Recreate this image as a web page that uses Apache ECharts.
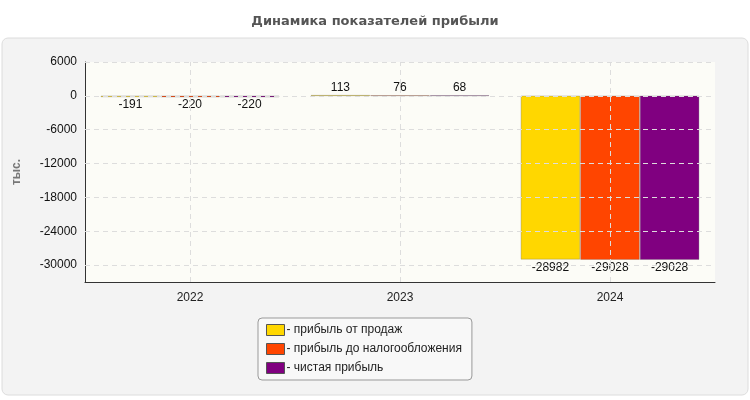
<!DOCTYPE html>
<html>
<head>
<meta charset="utf-8">
<script src="https://cdn.jsdelivr.net/npm/echarts@6/dist/echarts.min.js"></script>
<style>
  html, body { margin: 0; padding: 0; background: #fff; }
  #chart { width: 750px; height: 400px; }
</style>
</head>
<body>
<div id="chart"></div>
<script>
const years = ['2022', '2023', '2024']
const salesProfit = [-191, 113, -28982]
const pretaxProfit = [-220, 76, -29028]
const netProfit = [-220, 68, -29028]
const gridTicks = [6000, 0, -6000, -12000, -18000, -24000, -30000]

const names = ['- прибыль от продаж', '- прибыль до налогообложения', '- чистая прибыль']
const colors = ['#FFD700', '#FF4500', '#800080']

function makeSeries(name, data, color) {
  return {
    name: name,
    type: 'bar',
    barWidth: 59,
    barGap: '1%',
    z: 3,
    itemStyle: { color: color, borderColor: '#666', borderWidth: 0.3 },
    data: data.map(v => ({
      value: v,
      label: { position: v < 0 ? 'bottom' : 'top' }
    })),
    label: { show: true, color: '#111', fontSize: 12, distance: 2 }
  }
}

// пустая линия только ради сетки (по центрам категорий и кратным 6000)
let gridSeries = {
  type: 'line',
  data: [],
  z: 1,
  markLine: {
    silent: true,
    symbol: 'none',
    label: { show: false },
    lineStyle: { color: '#ddd', type: [5, 4], width: 1 },
    data: gridTicks.map(t => ({ yAxis: t })).concat(years.map(y => ({ xAxis: y })))
  }
}

let chart = echarts.init(document.getElementById('chart'))
chart.setOption({
  animation: false,
  graphic: [{
    type: 'rect',
    z: -10,
    shape: { x: 2, y: 38, width: 746, height: 357, r: 6 },
    style: { fill: '#f3f3f3', stroke: '#dcdcdc' }
  }],
  title: {
    text: 'Динамика показателей прибыли',
    left: 'center',
    top: 10,
    textStyle: { fontSize: 13, fontWeight: 'bold', color: '#555', fontFamily: 'DejaVu Sans' }
  },
  grid: {
    left: 85, right: 35, top: 62, bottom: 118,
    show: true, backgroundColor: '#fcfcf7', borderWidth: 0
  },
  legend: {
    orient: 'vertical',
    left: 258,
    top: 318,
    itemWidth: 18,
    itemHeight: 11,
    itemGap: 7,
    icon: 'rect',
    padding: [6, 10, 6, 8],
    backgroundColor: '#f8f8f8',
    borderColor: '#999',
    borderWidth: 1,
    borderRadius: 4,
    textStyle: { fontSize: 12, color: '#222', padding: [0, 0, 0, -3] },
    itemStyle: { borderColor: '#555', borderWidth: 1 },
    data: names
  },
  xAxis: {
    type: 'category',
    data: years,
    axisLine: { onZero: false, lineStyle: { color: '#333' } },
    axisTick: { show: false },
    axisLabel: { color: '#222', fontSize: 12, margin: 10 }
  },
  yAxis: {
    type: 'value',
    min: -33000,
    max: 6000,
    interval: 3000,
    name: 'тыс.',
    nameLocation: 'middle',
    nameGap: 62,
    nameRotate: 90,
    nameTextStyle: { color: '#777', fontWeight: 'bold', fontSize: 12 },
    axisLine: { show: true, lineStyle: { color: '#333' } },
    axisTick: { show: false },
    splitLine: { show: false },
    axisLabel: {
      color: '#111',
      fontSize: 12,
      formatter: v => (v % 6000 === 0 ? String(v) : '')
    }
  },
  series: [
    makeSeries(names[0], salesProfit, colors[0]),
    makeSeries(names[1], pretaxProfit, colors[1]),
    makeSeries(names[2], netProfit, colors[2]),
    gridSeries
  ]
})
</script>
</body>
</html>
